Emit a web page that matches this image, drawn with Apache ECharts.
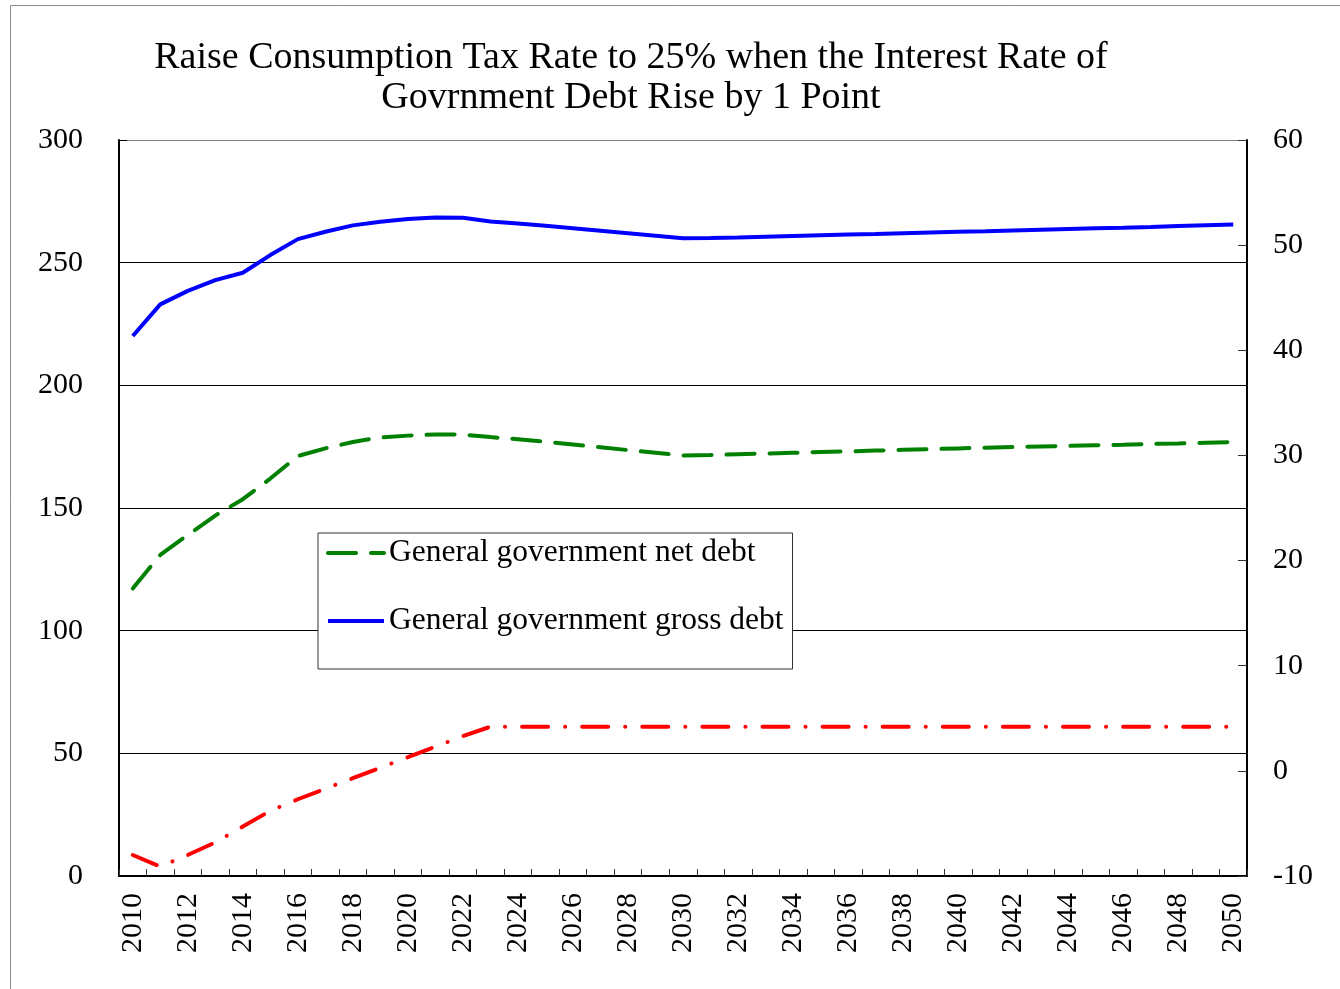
<!DOCTYPE html>
<html>
<head>
<meta charset="utf-8">
<title>Raise Consumption Tax Rate to 25%</title>
<script src="https://cdn.jsdelivr.net/npm/echarts@6/dist/echarts.min.js"></script>
<style>
  html, body { margin: 0; padding: 0; background: #fff; }
  #chart { width: 1340px; height: 989px; }
</style>
</head>
<body>
<div id="chart"></div>
<script>
// Years on the horizontal axis
var years = [];
for (var y = 2010; y <= 2050; y++) years.push(String(y));

// General government net debt (% of GDP, left axis)
var netDebt = [
  117.2, 130.9, 139.0, 146.9, 153.6, 162.0, 171.2, 174.3, 176.9, 178.8,
  179.5, 180.0, 179.9, 178.9, 178.0, 177.0, 175.9, 174.8, 173.6, 172.5,
  171.4, 171.6, 171.9, 172.2, 172.5, 172.8, 173.1, 173.4, 173.7, 174.0,
  174.3, 174.6, 174.9, 175.1, 175.3, 175.6, 175.8, 176.1, 176.3, 176.6,
  176.9
];

// General government gross debt (% of GDP, left axis)
var grossDebt = [
  220.1, 233.0, 238.5, 242.9, 245.9, 253.1, 259.6, 262.6, 265.2, 266.7,
  267.8, 268.4, 268.3, 266.8, 266.0, 265.0, 264.0, 263.0, 262.0, 261.0,
  260.0, 260.1, 260.3, 260.6, 260.9, 261.2, 261.5, 261.7, 262.0, 262.3,
  262.6, 262.8, 263.1, 263.4, 263.7, 264.0, 264.2, 264.5, 264.9, 265.3,
  265.6
];

// Primary balance (right axis)
var balance = [
  -8.0, -9.1, -8.0, -6.8, -5.3, -3.8, -2.7, -1.7, -0.7, 0.3,
  1.3, 2.3, 3.3, 4.2, 4.2, 4.2, 4.2, 4.2, 4.2, 4.2,
  4.2, 4.2, 4.2, 4.2, 4.2, 4.2, 4.2, 4.2, 4.2, 4.2,
  4.2, 4.2, 4.2, 4.2, 4.2, 4.2, 4.2, 4.2, 4.2, 4.2,
  4.2
];

var titleLines = [
  'Raise Consumption Tax Rate to 25% when the Interest Rate of',
  'Govrnment Debt Rise by 1 Point'
];
var netName = 'General government net debt';
var grossName = 'General government gross debt';

var serif = '"Liberation Serif", "Times New Roman", "DejaVu Serif", serif';

var chart = echarts.init(document.getElementById('chart'), null, { renderer: 'canvas' });

chart.setOption({
  backgroundColor: '#ffffff',
  animation: false,
  textStyle: { fontFamily: serif, color: '#000' },
  graphic: [
    {
      type: 'rect',
      shape: { x: 10.5, y: 5.5, width: 1340, height: 1000 },
      style: { fill: null, stroke: '#8c8c8c', lineWidth: 1 },
      silent: true, z: -10
    },
    {
      type: 'text',
      style: {
        x: 631, y: 58, text: titleLines[0], textAlign: 'center', textVerticalAlign: 'middle',
        font: '38px ' + serif, fill: '#000'
      }
    },
    {
      type: 'text',
      style: {
        x: 631, y: 98, text: titleLines[1], textAlign: 'center', textVerticalAlign: 'middle',
        font: '38px ' + serif, fill: '#000'
      }
    }
  ],
  grid: { left: 119, right: 93, top: 140, bottom: 113, containLabel: false },
  legend: {
    orient: 'vertical',
    left: 318,
    top: 533,
    data: [netName, grossName],
    itemWidth: 56,
    itemHeight: 14,
    itemGap: 34,
    padding: [3, 9, 31, 8],
    backgroundColor: '#ffffff',
    borderColor: '#333',
    borderWidth: 1,
    borderRadius: 0,
    itemStyle: { opacity: 0 },
    lineStyle: { width: 4 },
    textStyle: { fontFamily: serif, fontSize: 31.5, color: '#000', lineHeight: 34 },
    z: 10
  },
  xAxis: {
    type: 'category',
    data: years,
    boundaryGap: true,
    axisLine: { lineStyle: { color: '#000', width: 2 } },
    axisTick: { show: true, interval: 0, inside: true, length: 7, lineStyle: { color: '#333', width: 1 } },
    axisLabel: { interval: 1, rotate: 90, margin: 17, fontSize: 30, fontFamily: serif, color: '#000' },
    splitLine: { show: false }
  },
  yAxis: [
    {
      type: 'value',
      min: 0, max: 300, interval: 50,
      position: 'left',
      axisLine: { show: true, lineStyle: { color: '#000', width: 2 } },
      axisTick: { show: true, inside: true, length: 8, lineStyle: { color: '#000' } },
      axisLabel: { margin: 36, fontSize: 30, fontFamily: serif, color: '#000' },
      splitLine: {
        show: true,
        lineStyle: { color: ['#000', '#000', '#000', '#000', '#000', '#000', '#808080'], width: 1 }
      }
    },
    {
      type: 'value',
      min: -10, max: 60, interval: 10,
      position: 'right',
      axisLine: { show: true, lineStyle: { color: '#000', width: 2 } },
      axisTick: { show: true, inside: true, length: 9, lineStyle: { color: '#333' } },
      axisLabel: { margin: 26, fontSize: 30, fontFamily: serif, color: '#000' },
      splitLine: { show: false }
    }
  ],
  series: [
    {
      name: netName,
      type: 'line',
      yAxisIndex: 0,
      data: netDebt,
      symbol: 'none',
      color: '#008000',
      lineStyle: { color: '#008000', width: 4, type: [28, 15], cap: 'round' },
      z: 3
    },
    {
      name: grossName,
      type: 'line',
      yAxisIndex: 0,
      data: grossDebt,
      symbol: 'none',
      color: '#0000ff',
      lineStyle: { color: '#0000ff', width: 4, type: 'solid' },
      z: 3
    },
    {
      name: 'Primary balance',
      type: 'line',
      yAxisIndex: 1,
      data: balance,
      symbol: 'none',
      color: '#ff0000',
      lineStyle: { color: '#ff0000', width: 4, type: [26, 17, 0.1, 17], cap: 'round' },
      z: 3
    }
  ]
});
</script>
</body>
</html>
